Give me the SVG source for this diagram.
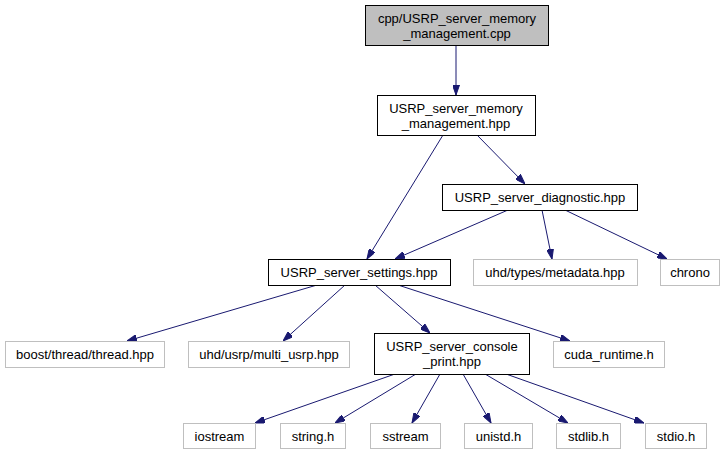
<svg xmlns="http://www.w3.org/2000/svg" width="727" height="455" viewBox="0 0 727 455">
<defs>
<style>
text{font-family:"Liberation Sans",Arial,Helvetica,sans-serif;font-size:13px;text-anchor:middle;fill:#000}
.n rect{fill:#fff;stroke:#000;stroke-width:1}
.root rect{fill:#bfbfbf;stroke:#000;stroke-width:1}
.leaf rect{fill:#fff;stroke:#bfbfbf;stroke-width:1}
.e line{stroke:#191970;stroke-width:1;fill:none;marker-end:url(#ah)}
</style>
<marker id="ah" viewBox="0 0 10 7" refX="10" refY="3.5" markerWidth="10" markerHeight="7" markerUnits="userSpaceOnUse" orient="auto">
<path d="M0,0 L10,3.5 L0,7 z" fill="#191970" stroke="#191970" stroke-width="1"/>
</marker>
</defs>
<rect width="727" height="455" fill="#fff"/>
<g id="edges" class="e">
<line x1="456" y1="45" x2="456" y2="95"/>
<line x1="443" y1="135" x2="367" y2="259"/>
<line x1="477" y1="135" x2="525" y2="184"/>
<line x1="508" y1="210" x2="395" y2="259"/>
<line x1="542" y1="210" x2="552" y2="259"/>
<line x1="565" y1="210" x2="667" y2="259"/>
<line x1="317" y1="285" x2="127" y2="341"/>
<line x1="345" y1="285" x2="283" y2="341"/>
<line x1="375" y1="285" x2="430" y2="333"/>
<line x1="398" y1="285" x2="570" y2="341"/>
<line x1="395" y1="374" x2="255" y2="423"/>
<line x1="416" y1="374" x2="335" y2="423"/>
<line x1="440" y1="374" x2="412" y2="423"/>
<line x1="463" y1="374" x2="491" y2="423"/>
<line x1="485" y1="374" x2="568" y2="423"/>
<line x1="506" y1="374" x2="644" y2="423"/>
</g>
<g id="node-root" class="root"><rect x="365.5" y="5.5" width="183" height="40"/><text x="457" y="23">cpp/USRP_server_memory</text><text x="457" y="38">_management.cpp</text></g>
<g id="node-memmgmt" class="n"><rect x="377.5" y="95.5" width="158" height="40"/><text x="456" y="113">USRP_server_memory</text><text x="456" y="128">_management.hpp</text></g>
<g id="node-diagnostic" class="n"><rect x="442.5" y="184.5" width="195" height="26"/><text x="540" y="202">USRP_server_diagnostic.hpp</text></g>
<g id="node-settings" class="n"><rect x="268.5" y="259.5" width="182" height="26"/><text x="359" y="277">USRP_server_settings.hpp</text></g>
<g id="node-metadata" class="leaf"><rect x="473.5" y="259.5" width="164" height="26"/><text x="555" y="277">uhd/types/metadata.hpp</text></g>
<g id="node-chrono" class="leaf"><rect x="660.5" y="259.5" width="59" height="26"/><text x="690" y="277">chrono</text></g>
<g id="node-boost" class="leaf"><rect x="5.5" y="341.5" width="159" height="26"/><text x="85" y="359">boost/thread/thread.hpp</text></g>
<g id="node-multiusrp" class="leaf"><rect x="188.5" y="341.5" width="161" height="26"/><text x="269" y="359">uhd/usrp/multi_usrp.hpp</text></g>
<g id="node-console" class="n"><rect x="374.5" y="333.5" width="155" height="41"/><text x="452" y="351">USRP_server_console</text><text x="452" y="366">_print.hpp</text></g>
<g id="node-cuda" class="leaf"><rect x="553.5" y="341.5" width="111" height="26"/><text x="609" y="359">cuda_runtime.h</text></g>
<g id="node-iostream" class="leaf"><rect x="183.5" y="423.5" width="72" height="25"/><text x="219.5" y="441">iostream</text></g>
<g id="node-string" class="leaf"><rect x="280.5" y="423.5" width="65" height="25"/><text x="313" y="441">string.h</text></g>
<g id="node-sstream" class="leaf"><rect x="370.5" y="423.5" width="70" height="25"/><text x="405.5" y="441">sstream</text></g>
<g id="node-unistd" class="leaf"><rect x="464.5" y="423.5" width="68" height="25"/><text x="498.5" y="441">unistd.h</text></g>
<g id="node-stdlib" class="leaf"><rect x="556.5" y="423.5" width="64" height="25"/><text x="588.5" y="441">stdlib.h</text></g>
<g id="node-stdio" class="leaf"><rect x="645.5" y="423.5" width="61" height="25"/><text x="676" y="441">stdio.h</text></g>
</svg>
